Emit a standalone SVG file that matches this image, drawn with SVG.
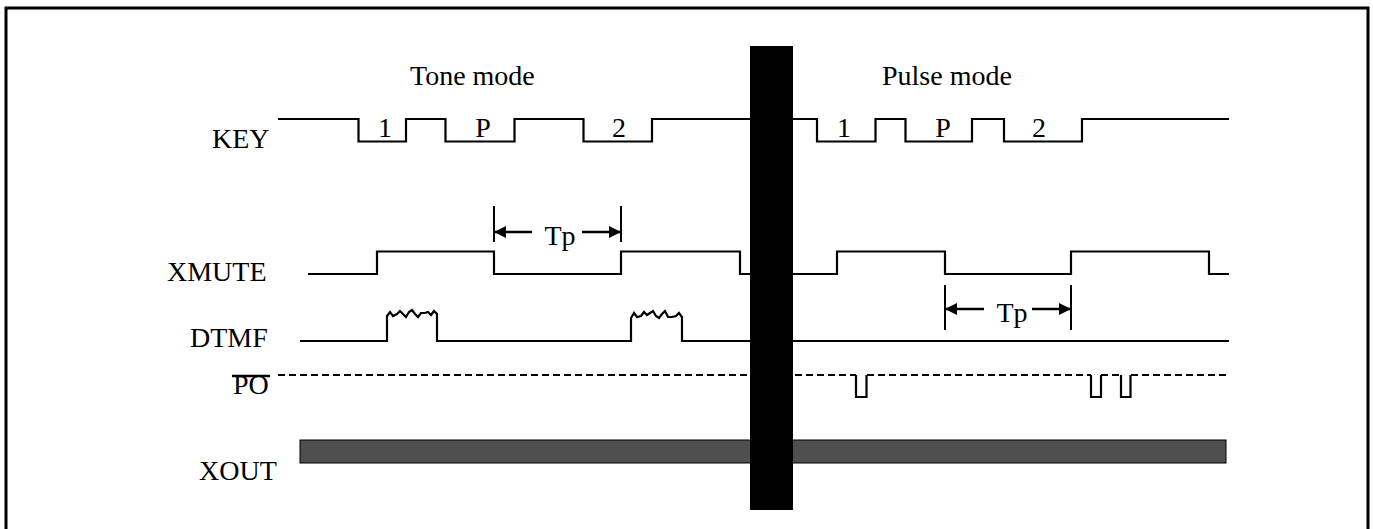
<svg xmlns="http://www.w3.org/2000/svg" width="1373" height="529" viewBox="0 0 1373 529">
<style>
.lbl{font-family:"Liberation Serif","Times New Roman",serif;font-size:28px;fill:#000}
.wave{fill:none;stroke:#000;stroke-width:2.2;stroke-linejoin:miter}
.dash{fill:none;stroke:#000;stroke-width:2;stroke-dasharray:7 4}
.tick{stroke:#000;stroke-width:2}
.arr{stroke:#000;stroke-width:2.5;marker-end:url(#ah)}
</style>
<defs>
<marker id="ah" markerUnits="userSpaceOnUse" markerWidth="12" markerHeight="12" refX="11" refY="6" orient="auto">
<path d="M0,0 L12,6 L0,12 z" fill="#000"/>
</marker>
</defs>
<rect x="6" y="8" width="1362" height="530" fill="#fff" stroke="#000" stroke-width="3"/>
<g id="titles">
<text class="lbl" x="410" y="85">Tone mode</text>
<text class="lbl" x="882" y="85">Pulse mode</text>
</g>
<g id="labels">
<text class="lbl" x="212" y="148">KEY</text>
<text class="lbl" x="167" y="281">XMUTE</text>
<text class="lbl" x="190" y="347">DTMF</text>
<text class="lbl" x="233" y="394">PO</text>
<line x1="232" y1="376" x2="270" y2="376" stroke="#000" stroke-width="2.5"/>
<text class="lbl" x="199" y="480">XOUT</text>
</g>
<g id="connectors">
<g id="key">
<path class="wave" d="M278,119 H358.5 V141.5 H406 V119 H445.5 V141.5 H514.5 V119 H583.5 V141.5 H652 V119 H817 V141.5 H875.5 V119 H905.5 V141.5 H972 V119 H1004 V141.5 H1082 V119 H1229"/>
<text class="lbl" x="385" y="137" text-anchor="middle">1</text>
<text class="lbl" x="483" y="137" text-anchor="middle">P</text>
<text class="lbl" x="619" y="137" text-anchor="middle">2</text>
<text class="lbl" x="844" y="137" text-anchor="middle">1</text>
<text class="lbl" x="943" y="137" text-anchor="middle">P</text>
<text class="lbl" x="1039" y="137" text-anchor="middle">2</text>
</g>
<g id="xmute">
<path class="wave" d="M308,274 H377 V251.5 H494 V274 H621 V251.5 H740 V274 H837 V251.5 H945 V274 H1071 V251.5 H1209 V274 H1229"/>
</g>
<g id="tp1">
<line class="tick" x1="494" y1="206" x2="494" y2="242"/>
<line class="tick" x1="621" y1="206" x2="621" y2="242"/>
<line class="arr" x1="532" y1="232" x2="495" y2="232"/>
<line class="arr" x1="582" y1="232" x2="620" y2="232"/>
<text class="lbl" x="560" y="245" text-anchor="middle">Tp</text>
</g>
<g id="tp2">
<line class="tick" x1="945" y1="285" x2="945" y2="330"/>
<line class="tick" x1="1071" y1="285" x2="1071" y2="330"/>
<line class="arr" x1="984" y1="309" x2="946" y2="309"/>
<line class="arr" x1="1032" y1="309" x2="1070" y2="309"/>
<text class="lbl" x="1012" y="322" text-anchor="middle">Tp</text>
</g>
<g id="dtmf">
<path class="wave" d="M300,341 H387 V316 L390,312 L393,316 L397,314 L400,311 L403,314 L406,317 L409,312 L412,310 L415,314 L418,317 L421,313 L425,313 L428,312 L431,315 L434,311 L437,314 V341 H631 V318 L634,313 L637,317 L641,316 L644,312 L647,315 L650,313 L653,311 L656,316 L659,318 L662,314 L665,311 L668,317 L672,317 L676,316 L679,313 L682,317 V341 H1229"/>
</g>
<g id="po">
<path class="dash" d="M278,375 H856"/>
<path class="wave" d="M856,375 V397 H866.5 V375"/>
<path class="dash" d="M867,375 H1091"/>
<path class="wave" d="M1091,375 V397 H1101 V375"/>
<path class="dash" d="M1101,375 H1121"/>
<path class="wave" d="M1121,375 V397 H1130.5 V375"/>
<path class="dash" d="M1131,375 H1229"/>
</g>
<g id="xout">
<rect x="300" y="440" width="926" height="23" fill="#4f4f4f" stroke="#000" stroke-width="1"/>
</g>
</g>
<g id="separator">
<rect x="750" y="46" width="43" height="464" fill="#000"/>
</g>
</svg>
